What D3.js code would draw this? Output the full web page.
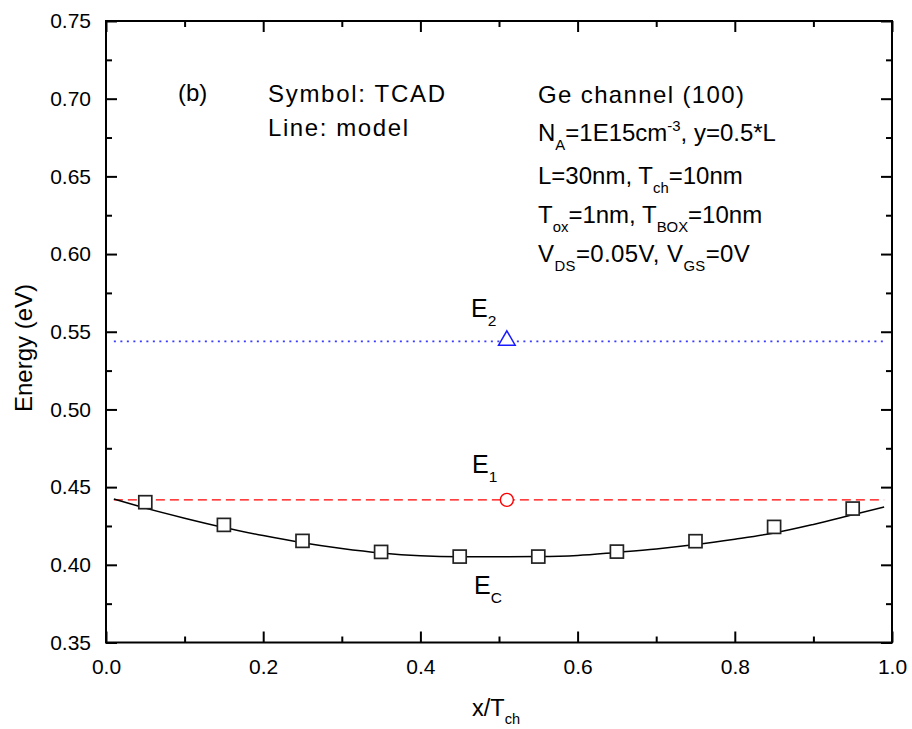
<!DOCTYPE html>
<html>
<head>
<meta charset="utf-8">
<script src="https://cdn.jsdelivr.net/npm/d3@7"></script>
<style>
  html, body { margin: 0; padding: 0; background: #fff; }
  svg { display: block; font-family: "Liberation Sans", Arial, sans-serif; }
</style>
</head>
<body>
<svg id="chart" width="912" height="729"></svg>
<script>
// TCAD simulation points (symbols)
const tcadX = [0.05, 0.15, 0.25, 0.35, 0.45, 0.55, 0.65, 0.75, 0.85, 0.95];
const tcadE = [0.4403, 0.4257, 0.4154, 0.4083, 0.4053, 0.4053, 0.4085, 0.4152, 0.4244, 0.4362];

// Analytical model of the conduction band edge E_C (solid line)
const modelX = [0.01, 0.05, 0.10, 0.15, 0.20, 0.25, 0.30, 0.35, 0.40, 0.45, 0.50,
                0.55, 0.60, 0.65, 0.70, 0.75, 0.80, 0.85, 0.90, 0.95, 0.99];
const modelE = [0.4423, 0.4365, 0.4300, 0.4240, 0.4188, 0.4142, 0.4105, 0.4076, 0.4058, 0.4052, 0.4052,
                0.4053, 0.4060, 0.4080, 0.4102, 0.4130, 0.4165, 0.4205, 0.4260, 0.4322, 0.4372];

// Quantized subband levels (model lines) and their TCAD values
const levelNames = ["E1", "E2"];
const levelModel = [0.4418, 0.5438];
const levelTcadX = [0.51, 0.51];
const levelTcad = [0.4418, 0.5438];
const levelSpan = [0.01, 0.99];

// Axis ticks
const xTicks = [0.0, 0.2, 0.4, 0.6, 0.8, 1.0];
const xMinor = [0.1, 0.3, 0.5, 0.7, 0.9];
const yTicks = [0.35, 0.40, 0.45, 0.50, 0.55, 0.60, 0.65, 0.70, 0.75];
const yMinor = [0.375, 0.425, 0.475, 0.525, 0.575, 0.625, 0.675, 0.725];

const svg = d3.select("#chart");
const L = 106, R = 892, T = 21, B = 642.5;

const x = d3.scaleLinear().domain([0, 1]).range([L, R]);
const y = d3.scaleLinear().domain([0.35, 0.75]).range([B, T]);

// Axes: ticks pointing inward on all four sides
const axFont = "21px";
const gBottom = svg.append("g").attr("transform", `translate(0,${B})`)
  .call(d3.axisBottom(x).tickValues(xTicks).tickSizeInner(-11).tickSizeOuter(0).tickPadding(17)
        .tickFormat(d3.format(".1f")));
const gBottomMinor = svg.append("g").attr("transform", `translate(0,${B})`)
  .call(d3.axisBottom(x).tickValues(xMinor).tickSizeInner(-6).tickSizeOuter(0).tickFormat(""));
const gTop = svg.append("g").attr("transform", `translate(0,${T})`)
  .call(d3.axisTop(x).tickValues(xTicks).tickSizeInner(-11).tickSizeOuter(0).tickFormat(""));
const gTopMinor = svg.append("g").attr("transform", `translate(0,${T})`)
  .call(d3.axisTop(x).tickValues(xMinor).tickSizeInner(-6).tickSizeOuter(0).tickFormat(""));
const gLeft = svg.append("g").attr("transform", `translate(${L},0)`)
  .call(d3.axisLeft(y).tickValues(yTicks).tickSizeInner(-11).tickSizeOuter(0).tickPadding(15)
        .tickFormat(d3.format(".2f")));
const gLeftMinor = svg.append("g").attr("transform", `translate(${L},0)`)
  .call(d3.axisLeft(y).tickValues(yMinor).tickSizeInner(-6).tickSizeOuter(0).tickFormat(""));
const gRight = svg.append("g").attr("transform", `translate(${R},0)`)
  .call(d3.axisRight(y).tickValues(yTicks).tickSizeInner(-11).tickSizeOuter(0).tickFormat(""));
const gRightMinor = svg.append("g").attr("transform", `translate(${R},0)`)
  .call(d3.axisRight(y).tickValues(yMinor).tickSizeInner(-6).tickSizeOuter(0).tickFormat(""));

[gBottom, gBottomMinor, gTop, gTopMinor, gLeft, gLeftMinor, gRight, gRightMinor].forEach(g => {
  g.select(".domain").remove();
  g.selectAll(".tick line").attr("stroke", "#000").attr("stroke-width", 2);
  g.selectAll(".tick text").attr("fill", "#000").style("font-size", axFont)
    .style("font-family", "'Liberation Sans', Arial, sans-serif");
});

// Frame
svg.append("rect").attr("x", L).attr("y", T).attr("width", R - L).attr("height", B - T)
  .attr("fill", "none").attr("stroke", "#000").attr("stroke-width", 2);

// Subband levels
const levelStyle = [
  { color: "#ff0000", dash: "9,5", width: 1.4 },
  { color: "#3b3bff", dash: "2,4.5", width: 1.6 }
];
levelModel.forEach((v, i) => {
  svg.append("line")
    .attr("x1", x(levelSpan[0])).attr("x2", x(levelSpan[1]))
    .attr("y1", y(v)).attr("y2", y(v))
    .attr("stroke", levelStyle[i].color).attr("stroke-width", levelStyle[i].width)
    .attr("stroke-dasharray", levelStyle[i].dash);
});

// E_C model line
const line = d3.line().x((d, i) => x(modelX[i])).y(d => y(d)).curve(d3.curveMonotoneX);
svg.append("path").datum(modelE).attr("d", line)
  .attr("fill", "none").attr("stroke", "#000").attr("stroke-width", 1.5);

// TCAD symbols: squares for E_C
svg.selectAll("rect.tcad").data(tcadE).join("rect").attr("class", "tcad")
  .attr("x", (d, i) => x(tcadX[i]) - 6.5).attr("y", d => y(d) - 6.5)
  .attr("width", 13).attr("height", 13)
  .attr("fill", "#fff").attr("stroke", "#222").attr("stroke-width", 1.7);

// circle for E1
svg.append("circle").attr("cx", x(levelTcadX[0])).attr("cy", y(levelTcad[0])).attr("r", 6.5)
  .attr("fill", "#fff").attr("stroke", "#ff0000").attr("stroke-width", 1.4);

// triangle for E2
const tri = d3.symbol().type(d3.symbolTriangle).size(120);
svg.append("path").attr("d", tri())
  .attr("transform", `translate(${x(levelTcadX[1])},${y(levelTcad[1]) - 1})`)
  .attr("fill", "#fff").attr("stroke", "#1a1aff").attr("stroke-width", 1.5);

// Text helper: runs of [text, shift] where shift = "sub" | "sup" | null
function richText(xp, yp, runs, size, width) {
  const t = svg.append("text").attr("x", xp).attr("y", yp)
    .style("font-size", size + "px").attr("fill", "#000");
  let state = 0;
  runs.forEach(([s, kind]) => {
    const ts = t.append("tspan").text(s);
    let target = 0;
    if (kind === "sub") target = 0.36 * size;
    if (kind === "sup") target = -0.42 * size;
    ts.attr("dy", target - state);
    state = target;
    if (kind) ts.style("font-size", (size * 0.62) + "px");
  });
  if (width) t.attr("textLength", width).attr("lengthAdjust", "spacing");
  return t;
}

const fs = 24;
richText(178, 101, [["(b)"]], fs);
richText(268, 102, [["Symbol: TCAD"]], fs, 177);
richText(268, 136, [["Line: model"]], fs, 140);

richText(538, 103, [["Ge channel (100)"]], fs, 206);
richText(538, 141, [["N"], ["A", "sub"], ["=1E15cm"], ["-3", "sup"], [", y=0.5*L"]], fs);
richText(538, 184, [["L=30nm, T"], ["ch", "sub"], ["=10nm"]], fs);
richText(538, 223, [["T"], ["ox", "sub"], ["=1nm, T"], ["BOX", "sub"], ["=10nm"]], fs);
richText(538, 262, [["V"], ["DS", "sub"], ["=0.05V, V"], ["GS", "sub"], ["=0V"]], fs)
  .style("letter-spacing", "0.4px");

// Level labels
richText(471, 317, [["E"], ["2", "sub"]], 25);
richText(472, 473, [["E"], ["1", "sub"]], 25);
richText(474, 594, [["E"], ["C", "sub"]], 25);

// Axis titles
richText(472, 716, [["x/T"], ["ch", "sub"]], 23.5);
svg.append("text")
  .attr("transform", `translate(32,348) rotate(-90)`)
  .attr("text-anchor", "middle")
  .style("font-size", "24px").attr("fill", "#000")
  .text("Energy (eV)");
</script>
</body>
</html>
